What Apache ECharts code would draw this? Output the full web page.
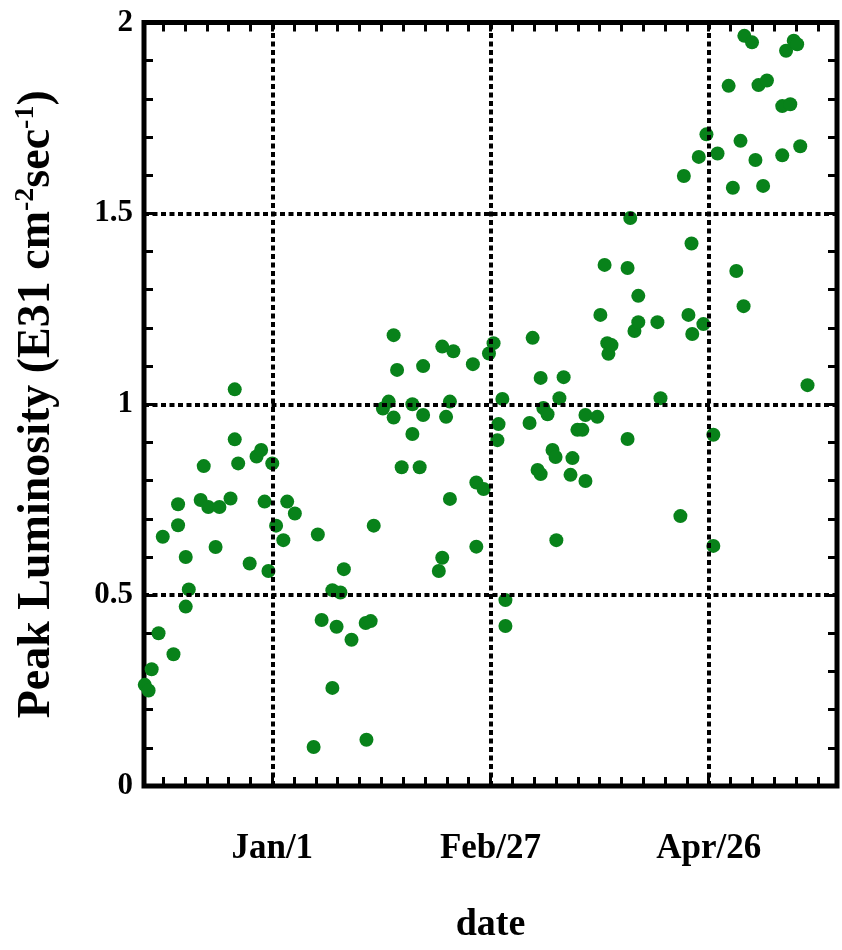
<!DOCTYPE html>
<html>
<head>
<meta charset="utf-8">
<script src="https://cdn.jsdelivr.net/npm/echarts@6/dist/echarts.min.js"></script>
<style>html,body{margin:0;padding:0;background:#fff}#c{width:842px;height:950px}</style>
</head>
<body>
<div id="c"></div>
<script>
// x: days relative to Jan/1 (tick spacing 57 days), y: peak luminosity (E31 cm^-2 s^-1)
const days = [
 -33.3,-32.3,-31.5,-29.7,-25.8,-22.6,-21.8,-22.6,-14.8,-5.9,-1.0,
 -9.8,-9.8,-8.9,-17.9,-4.1,-2.9,0.0,-18.7,-16.7,-13.8,-10.9,-24.6,-24.6,-28.6,
 -2.0,3.9,5.9,1.0,2.9,11.9,10.8,12.9,15.7,15.7,16.8,17.8,18.7,20.7,24.6,24.4,25.7,26.5,
 28.9,30.4,31.7,32.6,31.7,33.8,36.6,36.6,38.5,39.4,39.4,43.5,44.4,44.4,45.4,46.4,46.4,47.3,
 52.4,53.3,53.3,55.2,56.6,57.8,58.8,59.1,60.1,60.9,60.9,
 67.2,68.0,69.3,70.1,70.1,70.8,71.9,73.2,74.0,74.2,75.0,76.1,77.9,78.4,79.7,81.0,81.8,81.8,84.9,
 85.7,86.8,87.5,87.8,88.6,92.8,92.8,93.5,94.6,95.6,95.6,100.6,101.4,106.6,107.5,108.7,109.5,109.7,
 111.4,112.6,113.4,115.2,115.2,116.3,119.2,120.3,121.2,122.3,123.1,123.3,125.3,126.2,127.0,128.2,129.2,
 133.2,133.2,134.2,135.3,136.2,137.1,137.9,139.8
];
const luminosity = [
 0.265,0.250,0.306,0.400,0.345,0.470,0.515,0.600,0.626,0.583,0.563,
 1.039,0.908,0.845,0.838,0.863,0.880,0.845,0.749,0.731,0.731,0.753,0.738,0.683,0.653,
 0.745,0.745,0.714,0.682,0.644,0.659,0.102,0.435,0.257,0.513,0.417,0.507,0.568,0.383,0.121,0.427,0.432,0.682,
 0.989,1.007,1.181,1.090,0.965,0.835,1.000,0.922,0.835,1.100,0.972,0.563,0.598,1.151,0.967,1.007,0.752,1.139,
 1.105,0.795,0.627,0.778,1.133,1.160,0.906,0.948,1.014,0.487,0.419,
 0.951,1.174,0.828,1.069,0.817,0.990,0.974,0.880,0.862,0.644,1.016,1.071,0.815,0.859,0.933,0.933,0.972,0.799,0.967,
 1.234,1.365,1.160,1.132,1.155,1.357,0.909,1.488,1.192,1.284,1.215,1.215,1.016,0.707,1.598,1.234,1.421,1.184,
 1.648,1.210,1.707,0.920,0.629,1.657,1.834,1.567,1.349,1.690,1.257,1.965,1.948,1.640,1.836,1.572,1.848,
 1.781,1.652,1.926,1.786,1.952,1.943,1.676,1.050
];
const tickDays = [0, 57, 114];
const tickLabels = ['Jan/1', 'Feb/27', 'Apr/26'];
const yGridValues = [0.5, 1, 1.5];
const yLabelValues = [0, 0.5, 1, 1.5, 2];
const xMin = -33.5, xMax = 147.5, minorStep = 5.7;

const xMinorTicks = [];
for (let k = -5; k <= 25; k++) xMinorTicks.push(+(k * minorStep).toFixed(2));

const points = days.map((d, i) => [d, luminosity[i]]);
const FONT = 'Liberation Serif';

const tickStyle = { show: true, inside: true, length: 9, lineStyle: { color: '#000', width: 3 } };
const minorStyle = { show: true, splitNumber: 5, length: 9, lineStyle: { color: '#000', width: 3 } };

const chart = echarts.init(document.getElementById('c'), null, { renderer: 'canvas' });
chart.setOption({
  animation: false,
  backgroundColor: '#fff',
  grid: { left: 144, right: 5, top: 22.5, bottom: 164, show: true, borderColor: '#000', borderWidth: 5, backgroundColor: 'transparent' },
  xAxis: [
    {
      type: 'value', min: xMin, max: xMax, position: 'bottom',
      axisLine: { show: false, onZero: false },
      axisTick: Object.assign({ customValues: xMinorTicks }, tickStyle),
      axisLabel: {
        customValues: tickDays, margin: 45,
        fontFamily: FONT, fontWeight: 'bold', fontSize: 35, color: '#000',
        formatter: v => { const i = tickDays.indexOf(Math.round(v)); return i >= 0 ? tickLabels[i] : ''; }
      },
      splitLine: { show: false },
      name: 'date', nameLocation: 'middle', nameGap: 120,
      nameTextStyle: { fontFamily: FONT, fontWeight: 'bold', fontSize: 38, color: '#000' }
    },
    {
      type: 'value', min: xMin, max: xMax, position: 'top',
      axisLine: { show: false, onZero: false },
      axisTick: Object.assign({ customValues: xMinorTicks }, tickStyle),
      axisLabel: { show: false }, splitLine: { show: false }
    }
  ],
  yAxis: [
    {
      type: 'value', min: 0, max: 2, interval: 0.5, position: 'left',
      axisLine: { show: false, onZero: false },
      axisTick: tickStyle,
      minorTick: minorStyle,
      axisLabel: {
        customValues: yLabelValues, margin: 11,
        fontFamily: FONT, fontWeight: 'bold', fontSize: 31, color: '#000',
        formatter: v => String(+v.toFixed(1))
      },
      splitLine: { show: false },
      name: '{m|Peak Luminosity (E31 cm}{s|-2}{m|sec}{s|-1}{m|)}',
      nameLocation: 'middle', nameGap: 82, nameRotate: 90,
      nameTextStyle: {
        color: '#000',
        rich: {
          m: { fontFamily: FONT, fontWeight: 'bold', fontSize: 46, lineHeight: 50, color: '#000' },
          s: { fontFamily: FONT, fontWeight: 'bold', fontSize: 28, lineHeight: 50, color: '#000', verticalAlign: 'top' }
        }
      }
    },
    {
      type: 'value', min: 0, max: 2, interval: 0.5, position: 'right',
      axisLine: { show: false, onZero: false },
      axisTick: tickStyle,
      minorTick: minorStyle,
      axisLabel: { show: false }, splitLine: { show: false }
    }
  ],
  series: [
    {
      type: 'line', data: [], z: 1, silent: true,
      markLine: {
        silent: true, symbol: ['none', 'none'], label: { show: false },
        lineStyle: { color: '#000', width: 4, type: [5, 3.5], cap: 'butt', opacity: 1 },
        emphasis: { disabled: true },
        data: tickDays.map(d => ({ xAxis: d })).concat(yGridValues.map(v => ({ yAxis: v })))
      }
    },
    {
      type: 'scatter', data: points, z: 3, symbol: 'circle', symbolSize: 14,
      itemStyle: { color: '#08821a', opacity: 1 }
    }
  ]
});
</script>
</body>
</html>
